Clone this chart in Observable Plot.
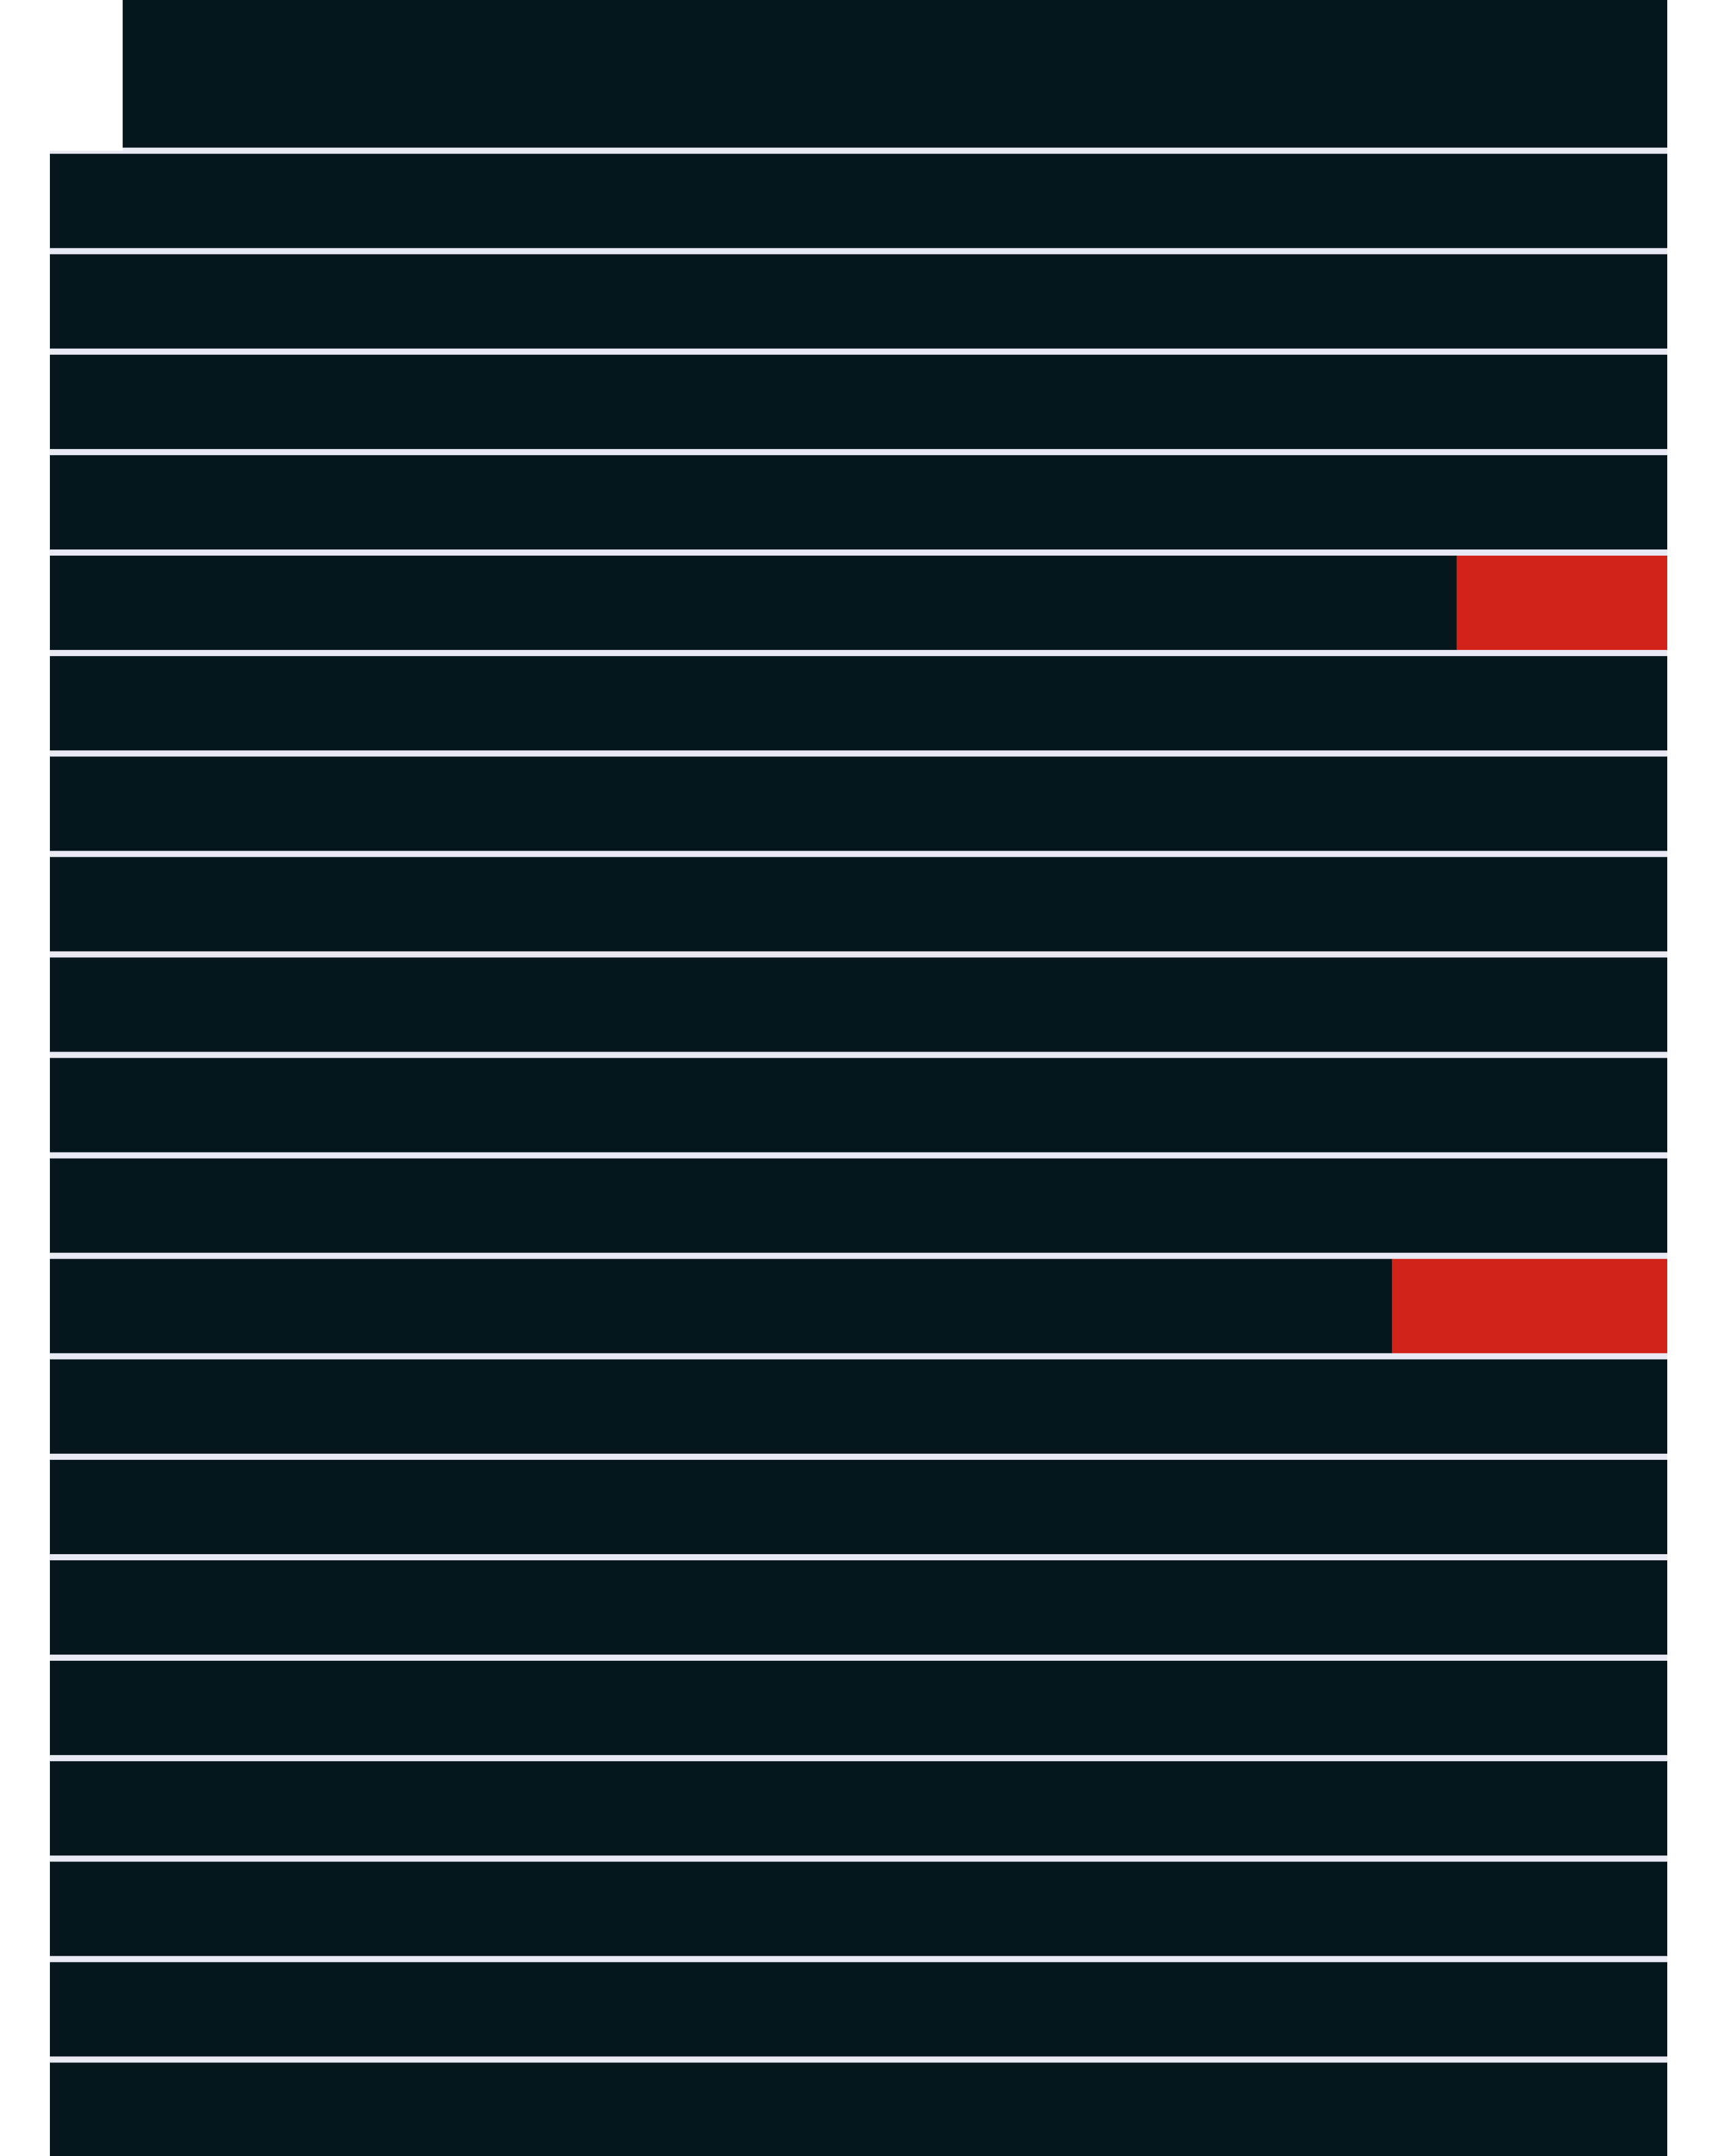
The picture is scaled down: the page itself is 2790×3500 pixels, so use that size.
<!DOCTYPE html>
<html>
<head>
<meta charset="utf-8">
<script src="https://cdn.jsdelivr.net/npm/d3@7"></script>
<script src="https://cdn.jsdelivr.net/npm/@observablehq/plot@0.6"></script>
<style>
  html, body { margin: 0; padding: 0; background: #ffffff; }
  #chart svg { display: block; }
</style>
</head>
<body>
<div id="chart"></div>
<script>
// Row indices (top partial row = -1, bottom partial row = 19)
const rowIndex = [-1, 0, 1, 2, 3, 4, 5, 6, 7, 8, 9, 10, 11, 12, 13, 14, 15, 16, 17, 18, 19];
// Where each row's bar begins (share of full width, %)
const rowStart = [4.5, 0, 0, 0, 0, 0, 0, 0, 0, 0, 0, 0, 0, 0, 0, 0, 0, 0, 0, 0, 0];
// Dark segment end (%)
const darkValue = [100, 100, 100, 100, 100, 87, 100, 100, 100, 100, 100, 100, 83, 100, 100, 100, 100, 100, 100, 100, 100];
// Red segment length (%)
const redValue = [0, 0, 0, 0, 0, 13, 0, 0, 0, 0, 0, 0, 17, 0, 0, 0, 0, 0, 0, 0, 0];

const yDomain = [-1.5, 19.96];

const rows = rowIndex.map((k, i) => ({
  k,
  start: rowStart[i],
  dark: darkValue[i],
  red: redValue[i],
  // the top row runs off the top edge of the picture
  top: k === -1 ? yDomain[0] - 0.2 : k,
  bottom: k + 1
}));

const light = "#e8e9f2";
const dark = "#05161d";
const red = "#d12219";

const chart = Plot.plot({
  width: 2790,
  height: 3500,
  marginLeft: 81,
  marginRight: 84,
  marginTop: 0,
  marginBottom: 0,
  x: {domain: [0, 100], axis: null},
  y: {domain: yDomain, reverse: true, axis: null},
  marks: [
    Plot.rect(rows, {x1: "start", x2: d => 100, y1: "top", y2: "bottom", fill: light}),
    Plot.rect(rows, {x1: "start", x2: "dark", y1: "top", y2: "bottom", fill: dark, insetTop: 5, insetBottom: 5}),
    Plot.rect(rows.filter(d => d.red > 0), {x1: "dark", x2: d => d.dark + d.red, y1: "top", y2: "bottom", fill: red, insetTop: 5, insetBottom: 5})
  ]
});
document.getElementById("chart").appendChild(chart);
</script>
</body>
</html>
